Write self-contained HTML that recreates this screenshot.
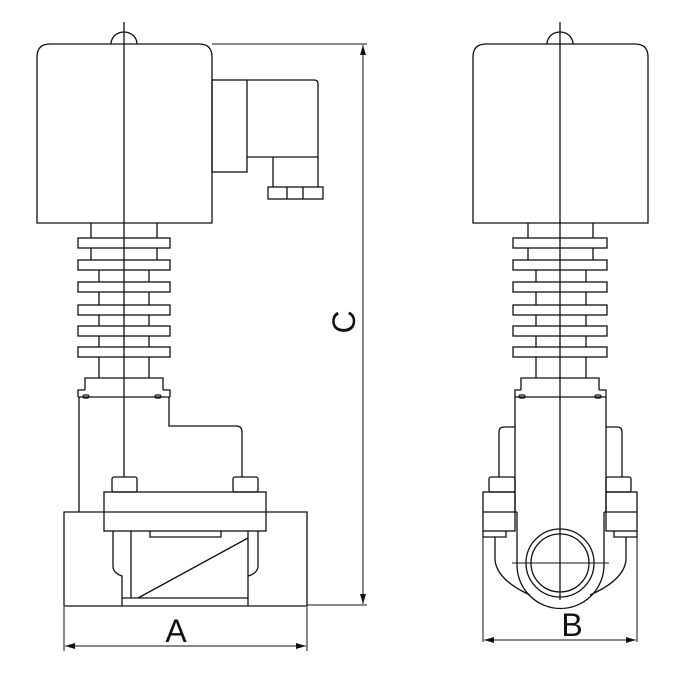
<!DOCTYPE html>
<html><head><style>body{margin:0;background:#fff}svg{display:block}</style></head><body>
<svg width="700" height="677" viewBox="0 0 700 677" xmlns="http://www.w3.org/2000/svg" fill="none" stroke="#111" stroke-width="1.3">
<defs><marker id="ar" viewBox="0 0 10 6" refX="10" refY="3" markerWidth="10" markerHeight="6" orient="auto-start-reverse" markerUnits="userSpaceOnUse"><path d="M0,0 L10,3 L0,6 z" fill="#111" stroke="none"/></marker></defs>
<!-- LEFT VIEW -->
<path d="M37,223 V57 Q37,44 50,44 H199 Q212,44 212,57 V223 Z"/>
<path d="M111,44 A13,12 0 0 1 137,44"/>
<line x1="124" y1="22" x2="124" y2="477"/>
<line x1="212" y1="44" x2="367" y2="44" stroke-width="1"/>
<rect x="212" y="80" width="35" height="92"/>
<path d="M247,80 H314 Q318,80 318,84 V157 H247"/>
<path d="M273,157 V187 M318,157 V187"/>
<rect x="268" y="187" width="55" height="12"/>
<path d="M287,187 V199 M303,187 V199"/>
<path d="M91,223 V238 M157,223 V238 M91,248 V260 M157,248 V260"/>
<g>
<rect x="78" y="238" width="92" height="10"/><rect x="78" y="260" width="92" height="10"/>
<rect x="78" y="282" width="92" height="10"/><rect x="78" y="305" width="92" height="10"/>
<rect x="78" y="326" width="92" height="10"/><rect x="78" y="347" width="92" height="10"/>
</g>
<path d="M99,270 V282 M149,270 V282 M99,292 V305 M149,292 V305 M99,315 V326 M149,315 V326 M99,336 V347 M149,336 V347 M99,357 V378 M149,357 V378"/>
<path d="M85,390 V378 H163 V390 M78,397 V390 H85 M170,397 V390 H163"/>
<line x1="78" y1="397" x2="170" y2="397"/>
<rect x="83" y="395" width="6" height="3" rx="1.5"/><rect x="155" y="395" width="6" height="3" rx="1.5"/>
<path d="M79,397 V512"/>
<path d="M169,397 V426 H236 Q242,426 242,432 V477"/>
<rect x="112" y="477" width="25" height="15" rx="2"/>
<rect x="233" y="477" width="25" height="15" rx="2"/>
<rect x="104" y="492" width="162" height="39"/>
<path d="M64,512 H307 V606 H64 Z"/>
<path d="M113,531 V566 Q113,573 122,576 V606 M258,531 V566 Q258,573 248,576"/>
<path d="M131,531 V598 M248,531 V606 M122,598 H248"/>
<path d="M150,531 V537 H221 V531"/>
<line x1="138" y1="598" x2="248" y2="538"/>
<line x1="307" y1="605" x2="367" y2="605" stroke-width="1"/>
<line x1="363" y1="45" x2="363" y2="604" stroke-width="1" marker-start="url(#ar)" marker-end="url(#ar)"/>
<path d="M64,607 V651 M307,607 V651" stroke-width="1"/>
<line x1="65" y1="646" x2="306" y2="646" stroke-width="1" marker-start="url(#ar)" marker-end="url(#ar)"/>
<text x="176" y="642" font-family="Liberation Sans, sans-serif" font-size="32" fill="#111" stroke="none" text-anchor="middle">A</text>
<text x="0" y="0" font-family="Liberation Sans, sans-serif" font-size="32" fill="#111" stroke="none" text-anchor="middle" transform="translate(355,322) rotate(-90)">C</text>
<!-- RIGHT VIEW -->
<path d="M473,223 V57 Q473,44 486,44 H635 Q648,44 648,57 V223 Z"/>
<path d="M547,44 A13,12 0 0 1 573,44"/>
<line x1="560" y1="22" x2="560" y2="600"/>
<path d="M528,223 V238 M593,223 V238 M528,248 V260 M593,248 V260"/>
<g>
<rect x="513" y="238" width="94" height="10"/><rect x="513" y="260" width="94" height="10"/>
<rect x="513" y="282" width="94" height="10"/><rect x="513" y="305" width="94" height="10"/>
<rect x="513" y="326" width="94" height="10"/><rect x="513" y="347" width="94" height="10"/>
</g>
<path d="M536,270 V282 M586,270 V282 M536,292 V305 M586,292 V305 M536,315 V326 M586,315 V326 M536,336 V347 M586,336 V347 M536,357 V378 M586,357 V378"/>
<path d="M521,390 V378 H599 V390 M515,397 V390 H521 M606,397 V390 H599"/>
<line x1="515" y1="397" x2="606" y2="397"/>
<rect x="519" y="395" width="6" height="3" rx="1.5"/><rect x="595" y="395" width="6" height="3" rx="1.5"/>
<path d="M515,397 V512 M606,397 V512"/>
<path d="M515,427 H504 Q499,427 499,432 V477 M606,427 H617 Q622,427 622,432 V477"/>
<rect x="489" y="477" width="26" height="15" rx="2"/>
<rect x="606" y="477" width="25" height="15" rx="2"/>
<rect x="483" y="492" width="32" height="39"/>
<rect x="606" y="492" width="31" height="39"/>
<path d="M483,512 H517 M604,512 H637"/>
<path d="M483,531 V537 H506 V531 M637,531 V537 H614 V531"/>
<path d="M517,512 V565 A43,43 0 0 0 604,565 V512"/>
<path d="M495,537 V560 Q497,580 530,595 M626,537 V560 Q624,580 590,595"/>
<circle cx="560" cy="563" r="34"/>
<circle cx="560" cy="563" r="29"/>
<line x1="512" y1="563" x2="609" y2="563" stroke-width="1"/>
<path d="M483,513 V642 M637,513 V642" stroke-width="1"/>
<line x1="484" y1="640" x2="636" y2="640" stroke-width="1" marker-start="url(#ar)" marker-end="url(#ar)"/>
<text x="572" y="636" font-family="Liberation Sans, sans-serif" font-size="32" fill="#111" stroke="none" text-anchor="middle">B</text>
</svg>
</body></html>
